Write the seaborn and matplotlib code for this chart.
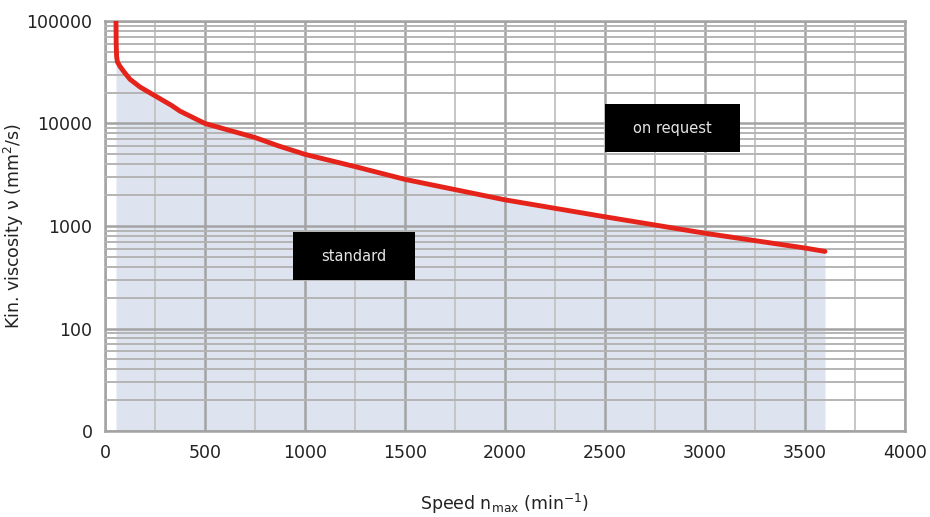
import matplotlib
matplotlib.use("Agg")
import matplotlib.pyplot as plt
import matplotlib.ticker as mticker
from matplotlib.patches import Rectangle
import seaborn as sns
import pandas as pd

# curve
speed = [55, 56, 58, 62, 75, 100, 125, 175, 225, 333, 375, 500, 667, 750, 867, 1000,
         1250, 1500, 2000, 2500, 3000, 3500, 3600]
viscosity = [100000, 60000, 45000, 40000, 36000, 31000, 27000, 22700, 19900, 15000,
             13200, 10000, 8100, 7300, 6050, 5000, 3800, 2850, 1800, 1230, 850, 610, 565]

y_ticks = [10, 100, 1000, 10000, 100000]
y_tick_labels = ["0", "100", "1000", "10000", "100000"]
x_ticks = [0, 500, 1000, 1500, 2000, 2500, 3000, 3500, 4000]

df = pd.DataFrame({"speed": speed, "viscosity": viscosity})

sns.set_theme(style="white")
plt.rcParams["font.family"] = ["DejaVu Sans"]

fig = plt.figure(figsize=(9.3, 5.17), dpi=100)
ax = fig.add_axes([0.1129, 0.1663, 0.8602, 0.7931])

grid_major = "#a3a3a3"
grid_minor = "#b4b4b4"

ax.fill_between(df["speed"], 10, df["viscosity"], color="#dde4f0", lw=0, zorder=1)
ax.set_yscale("log")
ax.set_xlim(0, 4000)
ax.set_ylim(10, 100000)

ax.set_yticks(y_ticks)
ax.set_yticklabels(y_tick_labels)
ax.yaxis.set_minor_locator(mticker.LogLocator(base=10, subs=range(2, 10), numticks=20))
ax.yaxis.set_minor_formatter(mticker.NullFormatter())
ax.set_xticks(x_ticks)
ax.xaxis.set_minor_locator(mticker.MultipleLocator(250))

ax.grid(True, which="major", color=grid_major, lw=1.8, zorder=2)
ax.grid(True, which="minor", axis="y", color=grid_minor, lw=1.4, zorder=2)
ax.grid(True, which="minor", axis="x", color="#c6c6c6", lw=1.4, zorder=2)
ax.set_axisbelow(False)

sns.lineplot(data=df, x="speed", y="viscosity", ax=ax, color="#e5231b", lw=3.5, zorder=4)

for s in ax.spines.values():
    s.set_color(grid_major)
    s.set_linewidth(1.8)

ax.tick_params(axis="both", which="major", direction="out", length=5, width=1.8,
               color=grid_major, labelsize=12.5, labelcolor="#222222", pad=4)
ax.tick_params(axis="both", which="minor", length=0)

ax.set_xlabel(r"Speed n$_{\mathregular{max}}$ (min$^{\mathregular{-1}}$)",
              fontsize=12.5, labelpad=22, color="#222222")
ax.set_ylabel(r"Kin. viscosity $\mathregular{\nu}$ (mm$^{\mathregular{2}}$/s)",
              fontsize=12.5, color="#222222")
ax.yaxis.set_label_coords(-0.099, 0.5)

# black label boxes
for (x0, y0, w, h, label) in [(0.625, 0.680, 0.169, 0.117, "on request"),
                              (0.235, 0.368, 0.1525, 0.117, "standard")]:
    ax.add_patch(Rectangle((x0, y0), w, h, transform=ax.transAxes,
                           facecolor="black", edgecolor="none", zorder=5))
    ax.text(x0 + w / 2, y0 + h / 2, label, transform=ax.transAxes, color="#e6e6e6",
            ha="center", va="center", fontsize=10.5, zorder=6)

fig.savefig("out.png", dpi=100)
